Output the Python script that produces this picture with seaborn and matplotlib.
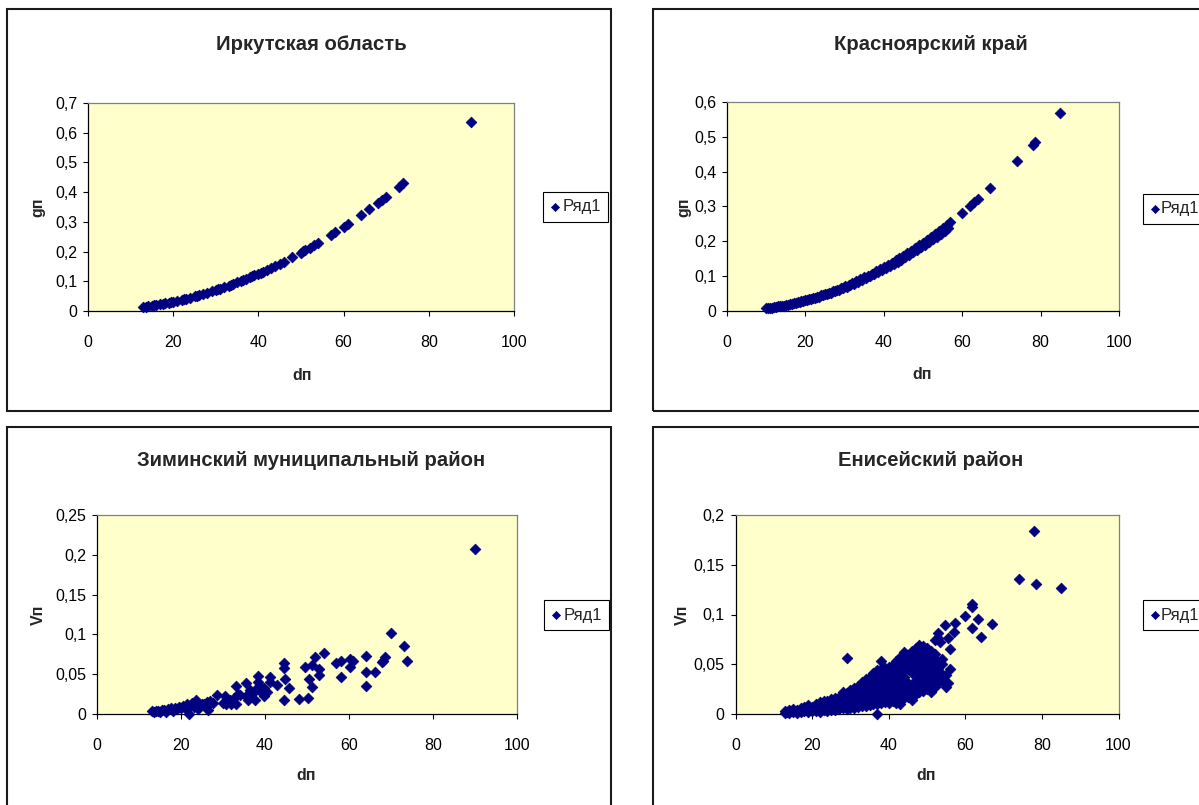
import matplotlib
matplotlib.use("Agg")
import matplotlib.pyplot as plt
from matplotlib.patches import Rectangle
from matplotlib.ticker import FuncFormatter, MultipleLocator
import seaborn as sns

# ── data ─────────────────────────────────────────────────────────────────────
irk_d = [13, 13.5, 14, 15, 15.5, 16, 17, 17.5, 18, 19, 19.5, 20, 21, 22, 22.5,
         23, 24, 25, 25.5, 26, 27, 28, 29, 30, 30.5, 31, 32, 33, 33.5, 34, 35,
         36, 36.5, 37, 38, 38.5, 39, 40, 40.5, 41, 42, 43, 44, 45, 46, 48, 50,
         50.5, 51, 52, 53, 54, 57, 58, 60, 61, 64, 66, 68, 69, 70, 73, 74, 90]
irk_g = [0.0133, 0.0143, 0.0154, 0.0177, 0.0189, 0.0201, 0.0227, 0.0241, 0.0254,
         0.0284, 0.0299, 0.0314, 0.0346, 0.0380, 0.0398, 0.0415, 0.0452, 0.0491,
         0.0511, 0.0531, 0.0573, 0.0616, 0.0661, 0.0707, 0.0731, 0.0755, 0.0804,
         0.0855, 0.0881, 0.0908, 0.0962, 0.1018, 0.1046, 0.1075, 0.1134, 0.1164,
         0.1195, 0.1257, 0.1288, 0.1320, 0.1385, 0.1452, 0.1521, 0.1590, 0.1662,
         0.1810, 0.1963, 0.2003, 0.2043, 0.2124, 0.2206, 0.2290, 0.2552, 0.2642,
         0.2827, 0.2922, 0.3217, 0.3421, 0.3632, 0.3739, 0.3848, 0.4185, 0.4301,
         0.6362]

kras_d = [10, 11, 12, 13, 14, 15, 16, 17, 18, 19, 20, 21, 22, 23, 24, 25, 26,
          27, 28, 29, 30, 31, 32, 33, 34, 35, 36, 37, 38, 39, 40, 41, 42, 43,
          44, 45, 46, 47, 48, 49, 50, 51, 52, 53, 54, 55, 56, 57, 60, 62, 63,
          64, 67, 74, 78, 78.5, 85,
          10.5, 11.5, 12.5, 13.5, 14.5, 15.5, 16.5, 17.5, 18.5, 19.5, 20.5,
          21.5, 22.5, 23.5, 24.5, 25.5, 26.5, 27.5, 28.5, 29.5, 30.5, 31.5,
          32.5, 33.5, 34.5, 35.5, 36.5, 37.5, 38.5, 39.5, 40.5, 41.5, 42.5,
          43.5, 44.5, 45.5, 46.5, 47.5, 48.5, 49.5, 50.5, 51.5, 52.5, 53.5,
          54.5, 55.5, 56.5]
kras_g = [0.0079, 0.0095, 0.0113, 0.0133, 0.0154, 0.0177, 0.0201, 0.0227,
          0.0254, 0.0284, 0.0314, 0.0346, 0.0380, 0.0415, 0.0452, 0.0491,
          0.0531, 0.0573, 0.0616, 0.0661, 0.0707, 0.0755, 0.0804, 0.0855,
          0.0908, 0.0962, 0.1018, 0.1075, 0.1134, 0.1195, 0.1257, 0.1320,
          0.1385, 0.1452, 0.1521, 0.1590, 0.1662, 0.1735, 0.1810, 0.1886,
          0.1963, 0.2043, 0.2124, 0.2206, 0.2290, 0.2376, 0.2463, 0.2552,
          0.2827, 0.3019, 0.3117, 0.3217, 0.3526, 0.4301, 0.4778, 0.4840, 0.5675,
          0.0082, 0.0099, 0.0117, 0.0136, 0.0157, 0.0179, 0.0203, 0.0229,
          0.0255, 0.0284, 0.0314, 0.0345, 0.0378, 0.0412, 0.0448, 0.0485,
          0.0524, 0.0564, 0.0606, 0.0649, 0.0694, 0.0740, 0.0788, 0.0837,
          0.0888, 0.0940, 0.0994, 0.1049, 0.1106, 0.1164, 0.1224, 0.1285,
          0.1348, 0.1412, 0.1478, 0.1545, 0.1613, 0.1683, 0.1755, 0.1828,
          0.1903, 0.1979, 0.2057, 0.2136, 0.2216, 0.2298, 0.2382]

zima_d = [13, 13.5, 14, 14.5, 15, 15.5, 16, 16.5, 17, 17.5,
          18, 18.5, 19, 19.5, 20, 20.5, 21, 21.5, 22, 22.2,
          22.5, 23, 23.5, 23.6, 24, 25, 25.5, 26, 26.2, 26.5,
          27, 27.5, 28.6, 30, 30.5, 30.6, 31, 31.6, 32, 32.5,
          33, 33, 33.5, 34, 35.4, 35.5, 36, 36.4, 37, 37.6,
          37.6, 38.4, 38.4, 38.8, 39, 39.8, 39.8, 40.5, 41.3, 41.3,
          42.9, 44.5, 44.5, 44.5, 44.8, 45.7, 48.1, 49.6, 50.2, 50.5,
          51.1, 51.1, 52, 52.8, 52.8, 54.1, 57, 58, 58, 60.2,
          60.2, 61, 64.1, 64.1, 64.1, 66.1, 67.8, 68.2, 68.5, 70.1,
          73.1, 73.9, 90.1]
zima_v = [0.004, 0.003, 0.004, 0.004, 0.003, 0.005, 0.005, 0.003, 0.006, 0.007,
          0.004, 0.008, 0.006, 0.009, 0.007, 0.010, 0.008, 0.012, 0.000, 0.010,
          0.014, 0.009, 0.018, 0.011, 0.006, 0.013, 0.012, 0.009, 0.015, 0.005,
          0.016, 0.014, 0.024, 0.014, 0.022, 0.013, 0.018, 0.0175, 0.013, 0.020,
          0.035, 0.012, 0.025, 0.024, 0.022, 0.039, 0.018, 0.030, 0.025, 0.030,
          0.017, 0.048, 0.040, 0.035, 0.028, 0.033, 0.022, 0.028, 0.047, 0.040,
          0.037, 0.064, 0.058, 0.018, 0.044, 0.033, 0.019, 0.059, 0.020, 0.044,
          0.061, 0.034, 0.071, 0.056, 0.049, 0.077, 0.064, 0.067, 0.046, 0.0695,
          0.0586, 0.066, 0.073, 0.053, 0.035, 0.053, 0.065, 0.067, 0.071, 0.102,
          0.086, 0.067, 0.207]

enisei_d = [
    13, 13, 13.5, 14, 14, 15, 15, 16, 16, 17, 17, 18, 18,
    19, 19, 19, 20, 20, 21, 21, 21, 22, 22, 22,
    23, 23, 23, 24, 24, 24, 25, 25, 25, 26, 26, 26, 27, 27, 27,
    28, 28, 28, 28, 29, 29, 29, 29, 29,
    30, 30, 30, 30, 31, 31, 31, 31, 32, 32, 32, 32,
    33, 33, 33, 33, 33, 34, 34, 34, 34, 34, 35, 35, 35, 35, 35,
    36, 36, 36, 36, 36, 36, 37, 37, 37, 37, 37, 37, 37,
    38, 38, 38, 38, 38, 38, 38, 39, 39, 39, 39, 39, 39,
    40, 40, 40, 40, 40, 40, 41, 41, 41, 41, 41, 41,
    42, 42, 42, 42, 42, 42, 42, 43, 43, 43, 43, 43, 43, 43, 43,
    44, 44, 44, 44, 44, 44, 44, 44, 45, 45, 45, 45, 45, 45,
    46, 46, 46, 46, 46, 46, 46, 47, 47, 47, 47, 47, 47, 47,
    48, 48, 48, 48, 48, 48, 48, 48, 49, 49, 49, 49, 49, 49, 49, 49,
    50, 50, 50, 50, 50, 50, 50, 51, 51, 51, 51, 51, 51, 51,
    52, 52, 52, 52, 52, 52, 52, 53, 53, 53, 53, 53, 53, 53.5,
    54, 54, 54, 54, 54.7, 55, 55, 55.6, 55.6, 55.9, 55.9,
    57, 57.3, 60, 61.8, 61.8, 61.8, 63.3, 64, 66.9, 73.9, 78, 78.4, 85,
]
enisei_v = [
    0.001, 0.003, 0.002, 0.001, 0.004, 0.002, 0.005, 0.001, 0.004, 0.002, 0.006, 0.003, 0.007,
    0.002, 0.005, 0.009, 0.003, 0.007, 0.003, 0.006, 0.010, 0.002, 0.007, 0.012,
    0.004, 0.008, 0.013, 0.003, 0.008, 0.013, 0.004, 0.009, 0.015, 0.004, 0.010, 0.016, 0.005, 0.011, 0.017,
    0.006, 0.012, 0.019, 0.022, 0.005, 0.011, 0.017, 0.021, 0.056,
    0.006, 0.012, 0.018, 0.024, 0.006, 0.012, 0.019, 0.026, 0.007, 0.013, 0.020, 0.028,
    0.008, 0.014, 0.021, 0.027, 0.032, 0.008, 0.014, 0.021, 0.028, 0.035, 0.009, 0.015, 0.022, 0.029, 0.037,
    0.010, 0.016, 0.023, 0.030, 0.036, 0.041, 0.000, 0.010, 0.017, 0.024, 0.031, 0.037, 0.044,
    0.011, 0.018, 0.025, 0.032, 0.039, 0.045, 0.053, 0.012, 0.018, 0.025, 0.032, 0.039, 0.046,
    0.011, 0.018, 0.025, 0.032, 0.040, 0.047, 0.013, 0.020, 0.027, 0.034, 0.041, 0.049,
    0.011, 0.019, 0.026, 0.033, 0.040, 0.047, 0.053, 0.010, 0.017, 0.024, 0.031, 0.038, 0.045, 0.052, 0.057,
    0.016, 0.023, 0.030, 0.037, 0.044, 0.051, 0.058, 0.062, 0.017, 0.024, 0.031, 0.045, 0.052, 0.059,
    0.014, 0.020, 0.027, 0.041, 0.048, 0.055, 0.063, 0.020, 0.027, 0.034, 0.044, 0.051, 0.058, 0.066,
    0.022, 0.029, 0.036, 0.043, 0.050, 0.057, 0.064, 0.069, 0.023, 0.030, 0.037, 0.044, 0.051, 0.058, 0.065, 0.068,
    0.025, 0.032, 0.039, 0.046, 0.053, 0.060, 0.066, 0.022, 0.029, 0.036, 0.043, 0.050, 0.057, 0.063,
    0.027, 0.034, 0.041, 0.048, 0.055, 0.060, 0.074, 0.031, 0.038, 0.046, 0.052, 0.076, 0.081, 0.072,
    0.033, 0.040, 0.050, 0.055, 0.089, 0.027, 0.039, 0.031, 0.076, 0.045, 0.065,
    0.082, 0.091, 0.098, 0.086, 0.108, 0.111, 0.095, 0.077, 0.090, 0.136, 0.184, 0.131, 0.127,
]

titles = ["Иркутская область", "Красноярский край",
          "Зиминский муниципальный район", "Енисейский район"]
ylabels = ["gп", "gп", "Vп", "Vп"]
xlabel = "dп"
series_name = "Ряд1"
y_max = [0.7, 0.6, 0.25, 0.2]
y_step = [0.1, 0.1, 0.05, 0.05]

# ── layout in pixels of the 1199x805 canvas (left, top, right, bottom) ──────
W, H = 1199, 805
PLOT_BOX = [(88, 103, 514, 311), (727, 102, 1119, 311),
            (97, 515, 517, 714), (735.5, 515, 1118.5, 714)]
FRAME = [(7, 9, 611, 411), (653, 9, 1265, 411),
         (7, 427, 611, 830), (653, 427, 1265, 830)]
TITLE_XY = [(311, 50), (931, 50), (311, 466), (931, 466)]
YLAB_XY = [(38, 207), (684, 207), (38, 615), (682, 615)]
XLAB_XY = [(302, 375), (922, 375), (306, 775), (926, 775)]
LEGEND_XY = [(543, 207), (1143, 209), (544, 615), (1143, 615)]
LEGEND_TXTPAD = [0.2, 0.1, 0.2, 0.1]
NAVY = "#000080"

sns.set_style("white")
plt.rcParams["font.family"] = ["Liberation Sans", "DejaVu Sans"]


def fx(px):
    return px / W


def fy(py):
    return 1 - py / H


def comma(v, pos):
    return f"{round(v, 4):g}".replace(".", ",")


fig = plt.figure(figsize=(W / 100, H / 100), dpi=100)
data = [(irk_d, irk_g), (kras_d, kras_g), (zima_d, zima_v), (enisei_d, enisei_v)]

for i, (xs, ys) in enumerate(data):
    l, t, r, b = PLOT_BOX[i]
    ax = fig.add_axes([fx(l), fy(b), fx(r) - fx(l), fy(t) - fy(b)])
    ax.set_facecolor("#FFFFCC")

    sns.scatterplot(x=xs, y=ys, ax=ax, marker="D", s=30, color=NAVY,
                    edgecolor=NAVY, linewidth=0.5, clip_on=False, zorder=3,
                    label=series_name, legend=False)

    ax.set_xlim(0, 100)
    ax.set_ylim(0, y_max[i])
    ax.xaxis.set_major_locator(MultipleLocator(20))
    ax.yaxis.set_major_locator(MultipleLocator(y_step[i]))
    ax.xaxis.set_major_formatter(FuncFormatter(comma))
    ax.yaxis.set_major_formatter(FuncFormatter(comma))
    ax.tick_params(axis="both", direction="out", length=3.3, width=0.8,
                   color="black", labelsize=11.5, labelcolor="black",
                   left=True, bottom=True)
    ax.tick_params(axis="x", pad=13.8)
    ax.tick_params(axis="y", pad=4.5)
    for side in ("left", "bottom"):
        ax.spines[side].set_color("black")
        ax.spines[side].set_linewidth(0.9)
    for side in ("top", "right"):
        ax.spines[side].set_color("#808080")
        ax.spines[side].set_linewidth(0.9)

    # axis labels, centred on measured pixel positions
    ax.set_xlabel(xlabel, fontsize=11.5, fontweight="bold")
    ax.set_ylabel(ylabels[i], fontsize=11.5, fontweight="bold")
    ax.xaxis.label.set_va("center")
    ax.yaxis.label.set_va("center")
    xl, yl = XLAB_XY[i]
    ax.xaxis.set_label_coords((xl - l) / (r - l), (b - yl) / (b - t))
    xl, yl = YLAB_XY[i]
    ax.yaxis.set_label_coords((xl - l) / (r - l), (b - yl) / (b - t))

    tx, ty = TITLE_XY[i]
    fig.text(fx(tx), fy(ty), titles[i], ha="center", va="baseline",
             fontsize=14.6, fontweight="bold")

    lx, ly = LEGEND_XY[i]
    leg = ax.legend(loc="center left", bbox_to_anchor=(fx(lx), fy(ly)),
                    bbox_transform=fig.transFigure, frameon=True,
                    fancybox=False, edgecolor="black", framealpha=1,
                    fontsize=12, handlelength=0.5,
                    handletextpad=LEGEND_TXTPAD[i],
                    borderpad=0.45, borderaxespad=0, markerscale=0.75)
    leg.get_frame().set_linewidth(0.8)

    x0, y0, x1, y1 = FRAME[i]
    fig.patches.append(Rectangle((fx(x0), fy(y1)), fx(x1) - fx(x0),
                                 fy(y0) - fy(y1), transform=fig.transFigure,
                                 fill=False, lw=1.5, ec="#1a1a1a"))

fig.savefig("out.png", dpi=100)
